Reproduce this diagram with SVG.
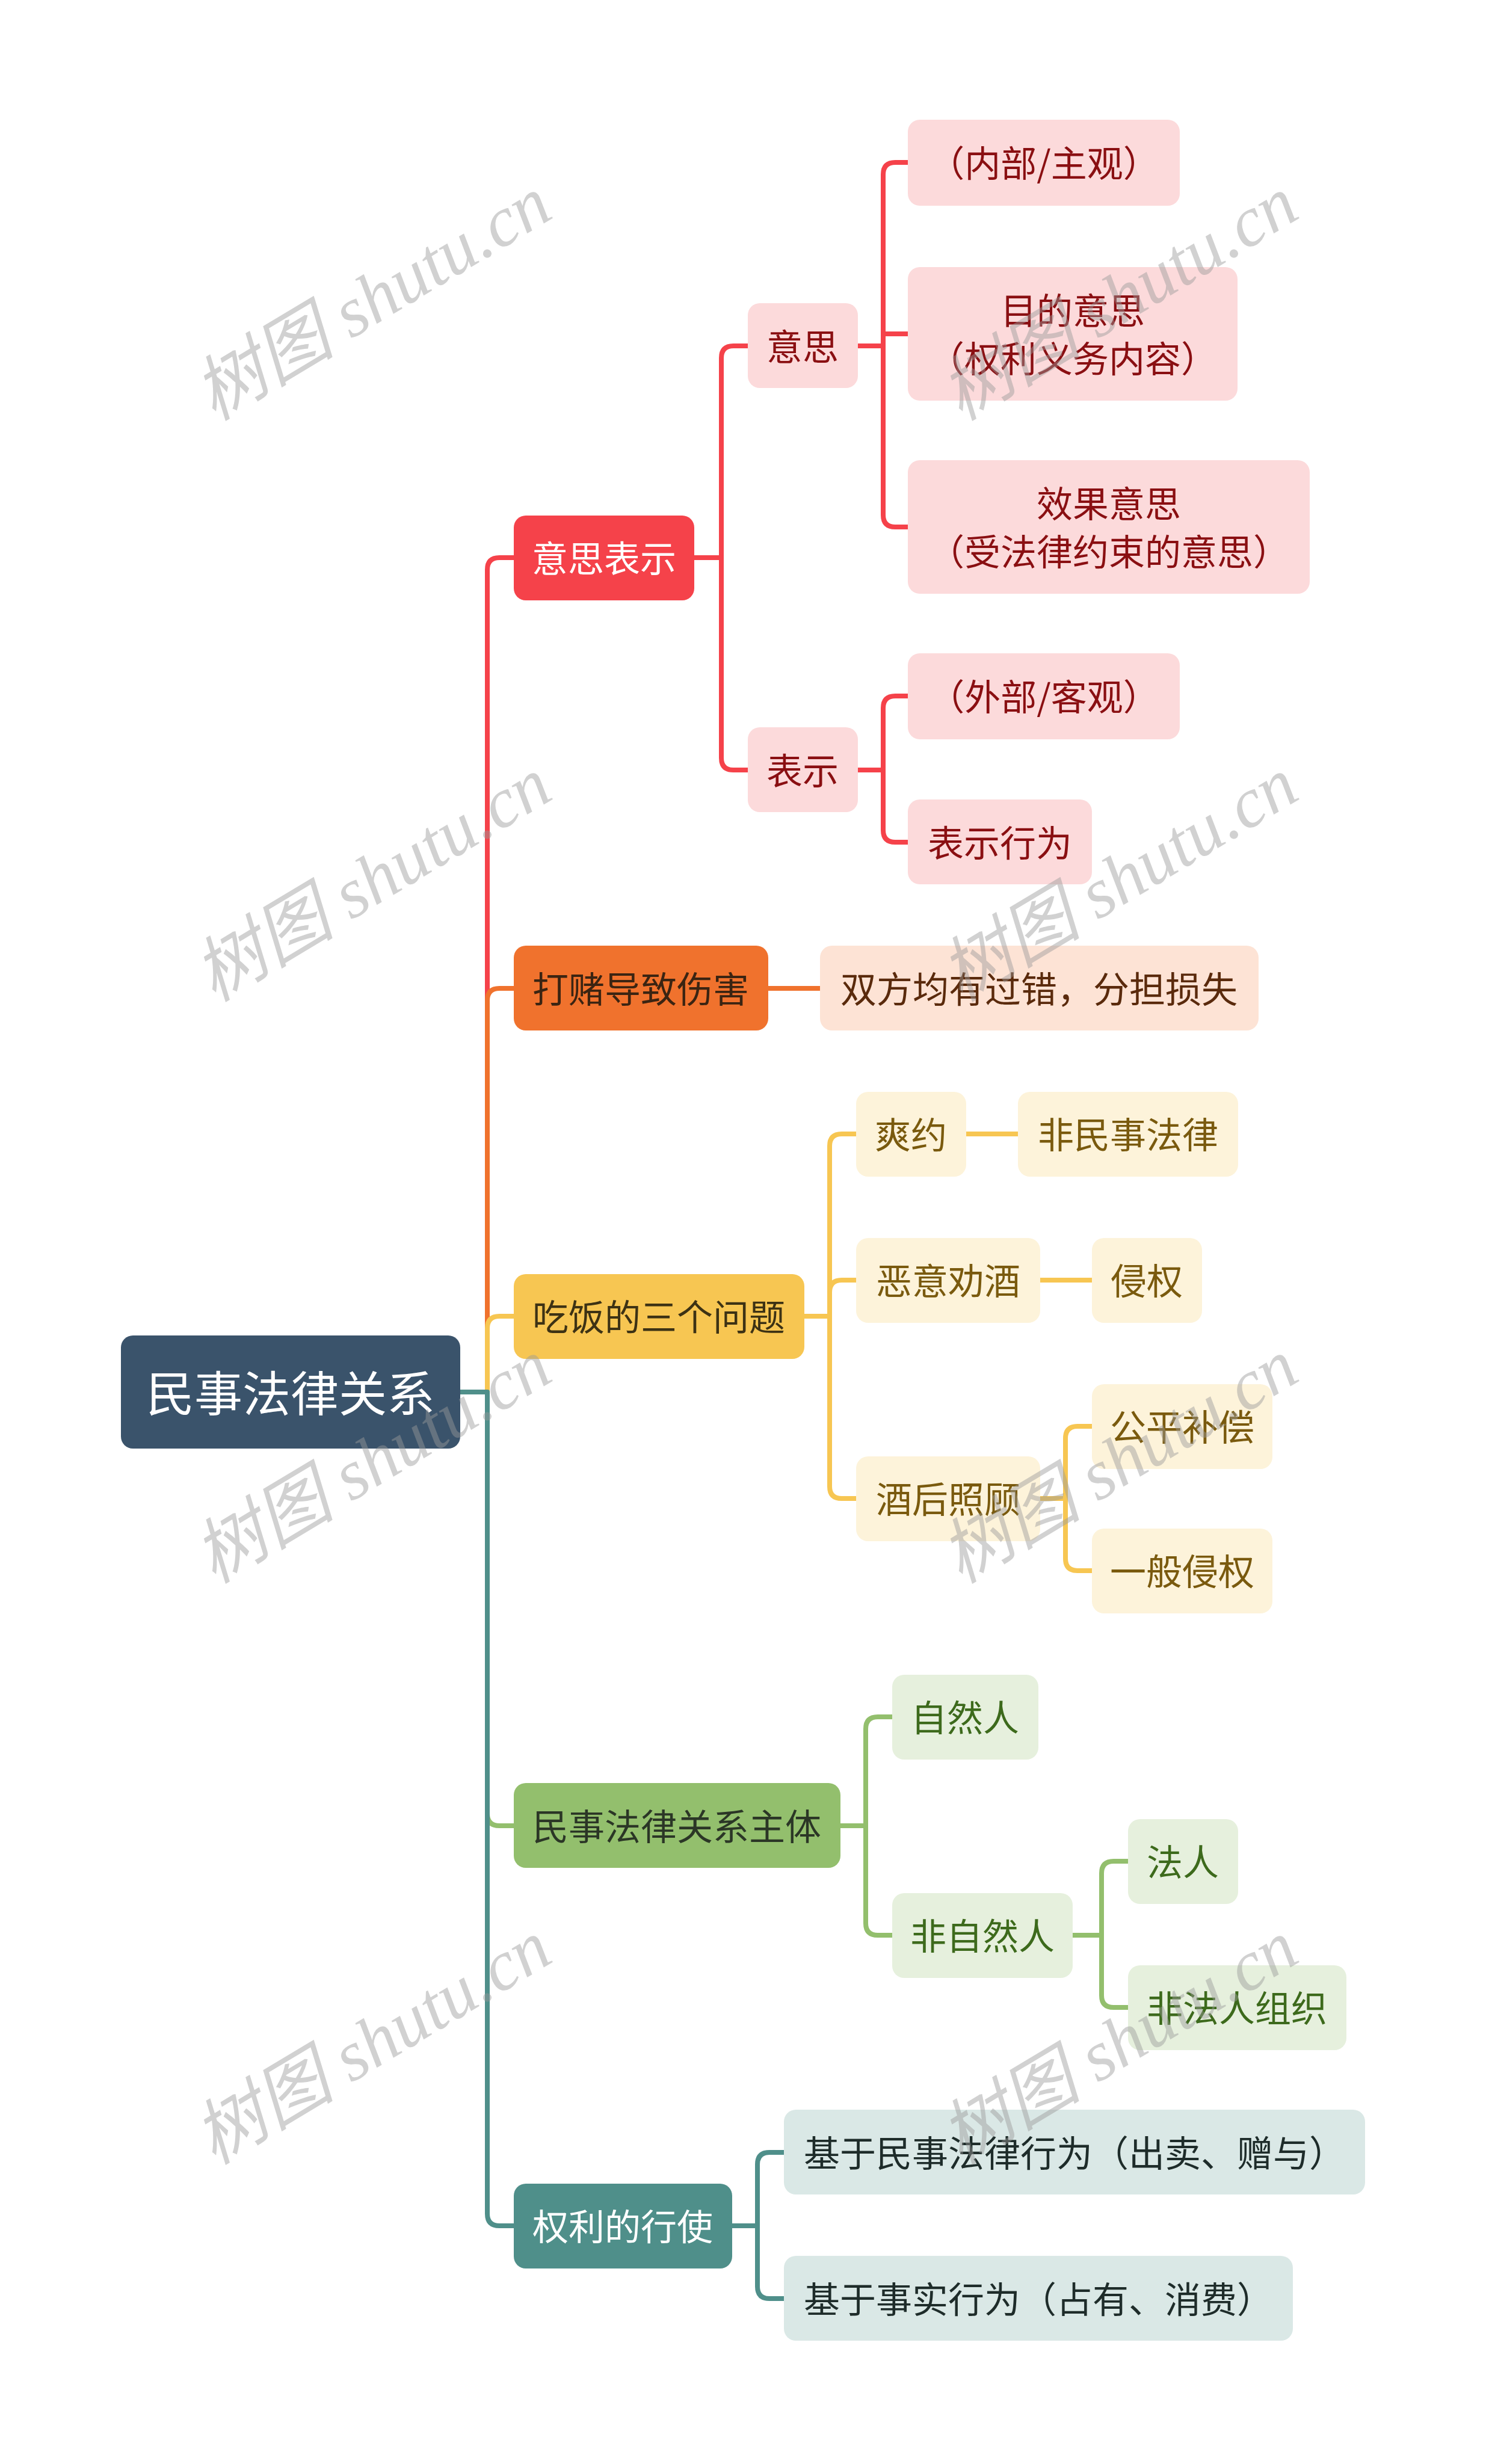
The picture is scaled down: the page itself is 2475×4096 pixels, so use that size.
<svg xmlns="http://www.w3.org/2000/svg" width="2475" height="4096" viewBox="0 0 2475 4096">
<style>
text{font-family:"Noto Sans CJK SC","Noto Sans",sans-serif;text-anchor:middle}
.t0{font-size:80px;fill:#ffffff}
.t{font-size:60px}
.wm{font-family:"Liberation Serif","Noto Sans CJK SC",serif;font-style:italic;font-size:118px;fill:#9a9a9a;opacity:0.45}
.c{fill:none;stroke-width:8;stroke-linecap:butt;stroke-linejoin:round}
.cr{stroke:#f5424a}.co{stroke:#f0722d}.cy{stroke:#f7c652}.cg{stroke:#93bf6d}.ct{stroke:#4f8f8a}
.root{fill:#3a536b}
.r1{fill:#f5424a}.o1{fill:#f0722d}.y1{fill:#f7c652}.g1{fill:#93bf6d}.k1{fill:#4f8f8a}
.r2{fill:#fcdadb}.o2{fill:#fde3d5}.y2{fill:#fdf3da}.g2{fill:#e6f0dd}.k2{fill:#dae8e6}
.tw{fill:#ffffff}.tr{fill:#8a0f12}.to{fill:#5a2a0c}.tod{fill:#3b2412}.ty{fill:#7a5a0e}.tyd{fill:#3d3214}.tg{fill:#3d6a1c}.tgd{fill:#2b3626}.tk{fill:#1e2c2a}
</style>
<rect width="2475" height="4096" fill="#ffffff"/>

<g id="connectors">
  <path class="c cr" d="M765,2314 H810 V947 Q810,927 830,927 H854"/>
  <path class="c co" d="M765,2314 H810 V1663 Q810,1643 830,1643 H854"/>
  <path class="c cy" d="M765,2314 H810 V2208 Q810,2188 830,2188 H854"/>
  <path class="c cg" d="M765,2314 H810 V3015 Q810,3035 830,3035 H854"/>
  <path class="c ct" d="M765,2314 H810 V3680 Q810,3700 830,3700 H854"/>

  <path class="c cr" d="M1154,927 H1199 V595 Q1199,575 1219,575 H1243"/>
  <path class="c cr" d="M1154,927 H1199 V1260 Q1199,1280 1219,1280 H1243"/>
  <path class="c cr" d="M1426,575 H1468 V290 Q1468,270 1488,270 H1509"/>
  <path class="c cr" d="M1426,575 H1468 V555 H1509"/>
  <path class="c cr" d="M1426,575 H1468 V856 Q1468,876 1488,876 H1509"/>
  <path class="c cr" d="M1426,1280 H1468 V1177 Q1468,1157 1488,1157 H1509"/>
  <path class="c cr" d="M1426,1280 H1468 V1380 Q1468,1400 1488,1400 H1509"/>

  <path class="c co" d="M1277,1643 H1363"/>

  <path class="c cy" d="M1337,2188 H1379 V1905 Q1379,1885 1399,1885 H1423"/>
  <path class="c cy" d="M1337,2188 H1379 V2148 Q1379,2128 1399,2128 H1423"/>
  <path class="c cy" d="M1337,2188 H1379 V2471 Q1379,2491 1399,2491 H1423"/>
  <path class="c cy" d="M1606,1885 H1692"/>
  <path class="c cy" d="M1729,2128 H1815"/>
  <path class="c cy" d="M1729,2491 H1771 V2391 Q1771,2371 1791,2371 H1815"/>
  <path class="c cy" d="M1729,2491 H1771 V2591 Q1771,2611 1791,2611 H1815"/>

  <path class="c cg" d="M1397,3035 H1439 V2874 Q1439,2854 1459,2854 H1483"/>
  <path class="c cg" d="M1397,3035 H1439 V3197 Q1439,3217 1459,3217 H1483"/>
  <path class="c cg" d="M1783,3217 H1831 V3114 Q1831,3094 1851,3094 H1875"/>
  <path class="c cg" d="M1783,3217 H1831 V3317 Q1831,3337 1851,3337 H1875"/>

  <path class="c ct" d="M1217,3700 H1259 V3598 Q1259,3578 1279,3578 H1303"/>
  <path class="c ct" d="M1217,3700 H1259 V3801 Q1259,3821 1279,3821 H1303"/>
</g>

<g id="n-root"><rect class="root" x="201" y="2220" width="564" height="188" rx="20"/><text class="t0" x="483" y="2346">民事法律关系</text></g>

<g id="n-yisibiaoshi"><rect class="r1" x="854" y="857" width="300" height="141" rx="20"/><text class="t tw" x="1004" y="951">意思表示</text></g>
<g id="n-yisi"><rect class="r2" x="1243" y="504" width="183" height="141" rx="20"/><text class="t tr" x="1334" y="599">意思</text></g>
<g id="n-biaoshi"><rect class="r2" x="1243" y="1209" width="183" height="141" rx="20"/><text class="t tr" x="1334" y="1304">表示</text></g>
<g id="n-neibu"><rect class="r2" x="1509" y="199" width="452" height="143" rx="20"/><text class="t tr" x="1735" y="294">（内部/主观）</text></g>
<g id="n-mudi"><rect class="r2" x="1509" y="444" width="548" height="222" rx="20"/><text class="t tr" x="1783" y="539">目的意思</text><text class="t tr" x="1783" y="619">（权利义务内容）</text></g>
<g id="n-xiaoguo"><rect class="r2" x="1509" y="765" width="668" height="222" rx="20"/><text class="t tr" x="1843" y="860">效果意思</text><text class="t tr" x="1843" y="940">（受法律约束的意思）</text></g>
<g id="n-waibu"><rect class="r2" x="1509" y="1086" width="452" height="143" rx="20"/><text class="t tr" x="1735" y="1181">（外部/客观）</text></g>
<g id="n-biaoshixingwei"><rect class="r2" x="1509" y="1329" width="306" height="141" rx="20"/><text class="t tr" x="1662" y="1424">表示行为</text></g>

<g id="n-dadu"><rect class="o1" x="854" y="1572" width="423" height="141" rx="20"/><text class="t tod" x="1065" y="1667">打赌导致伤害</text></g>
<g id="n-shuangfang"><rect class="o2" x="1363" y="1572" width="729" height="141" rx="20"/><text class="t to" x="1727" y="1667">双方均有过错，分担损失</text></g>

<g id="n-chifan"><rect class="y1" x="854" y="2118" width="483" height="141" rx="20"/><text class="t tyd" x="1095" y="2212">吃饭的三个问题</text></g>
<g id="n-shuangyue"><rect class="y2" x="1423" y="1815" width="183" height="141" rx="20"/><text class="t ty" x="1514" y="1909">爽约</text></g>
<g id="n-feiminshi"><rect class="y2" x="1692" y="1815" width="366" height="141" rx="20"/><text class="t ty" x="1875" y="1909">非民事法律</text></g>
<g id="n-eyi"><rect class="y2" x="1423" y="2058" width="306" height="141" rx="20"/><text class="t ty" x="1576" y="2152">恶意劝酒</text></g>
<g id="n-qinquan"><rect class="y2" x="1815" y="2058" width="183" height="141" rx="20"/><text class="t ty" x="1906" y="2152">侵权</text></g>
<g id="n-jiuhou"><rect class="y2" x="1423" y="2421" width="306" height="141" rx="20"/><text class="t ty" x="1576" y="2515">酒后照顾</text></g>
<g id="n-gongping"><rect class="y2" x="1815" y="2301" width="300" height="141" rx="20"/><text class="t ty" x="1965" y="2395">公平补偿</text></g>
<g id="n-yiban"><rect class="y2" x="1815" y="2541" width="300" height="141" rx="20"/><text class="t ty" x="1965" y="2635">一般侵权</text></g>

<g id="n-zhuti"><rect class="g1" x="854" y="2964" width="543" height="141" rx="20"/><text class="t tgd" x="1125" y="3059">民事法律关系主体</text></g>
<g id="n-ziran"><rect class="g2" x="1483" y="2784" width="243" height="141" rx="20"/><text class="t tg" x="1604" y="2878">自然人</text></g>
<g id="n-feiziran"><rect class="g2" x="1483" y="3147" width="300" height="141" rx="20"/><text class="t tg" x="1633" y="3241">非自然人</text></g>
<g id="n-faren"><rect class="g2" x="1875" y="3024" width="183" height="141" rx="20"/><text class="t tg" x="1966" y="3118">法人</text></g>
<g id="n-feifaren"><rect class="g2" x="1875" y="3267" width="363" height="141" rx="20"/><text class="t tg" x="2056" y="3361">非法人组织</text></g>

<g id="n-quanli"><rect class="k1" x="854" y="3630" width="363" height="141" rx="20"/><text class="t tw" x="1035" y="3724">权利的行使</text></g>
<g id="n-jiyuminshi"><rect class="k2" x="1303" y="3507" width="966" height="141" rx="20"/><text class="t tk" x="1786" y="3602">基于民事法律行为（出卖、赠与）</text></g>
<g id="n-jiyushishi"><rect class="k2" x="1303" y="3750" width="846" height="141" rx="20"/><text class="t tk" x="1726" y="3845">基于事实行为（占有、消费）</text></g>

<g id="watermarks">
  <text class="wm" transform="translate(619,496) rotate(-31)" y="40">树图 shutu.cn</text>
  <text class="wm" transform="translate(1860,496) rotate(-31)" y="40">树图 shutu.cn</text>
  <text class="wm" transform="translate(619,1462) rotate(-31)" y="40">树图 shutu.cn</text>
  <text class="wm" transform="translate(1860,1462) rotate(-31)" y="40">树图 shutu.cn</text>
  <text class="wm" transform="translate(619,2429) rotate(-31)" y="40">树图 shutu.cn</text>
  <text class="wm" transform="translate(1860,2429) rotate(-31)" y="40">树图 shutu.cn</text>
  <text class="wm" transform="translate(619,3395) rotate(-31)" y="40">树图 shutu.cn</text>
  <text class="wm" transform="translate(1860,3395) rotate(-31)" y="40">树图 shutu.cn</text>
</g>
</svg>
